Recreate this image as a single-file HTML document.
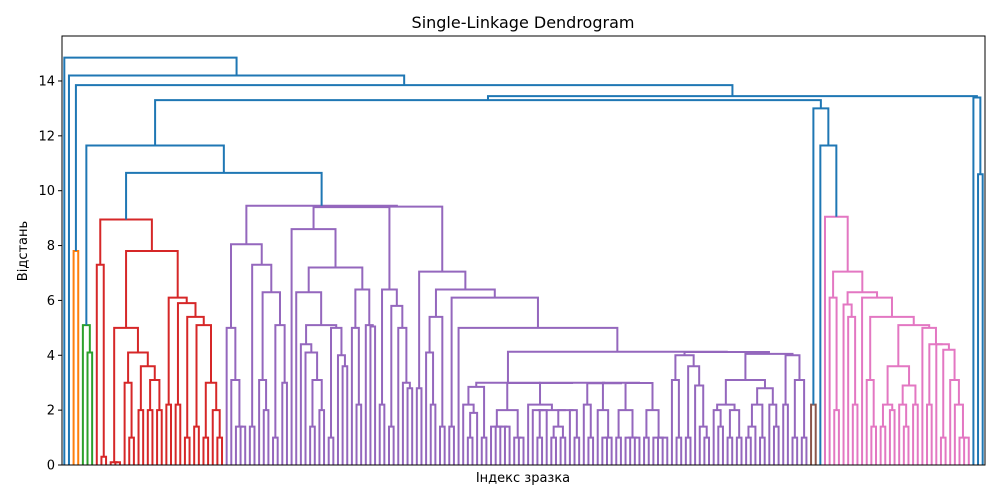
<!DOCTYPE html>
<html><head><meta charset="utf-8">
<style>
html,body{margin:0;padding:0;background:#fff;}
svg{display:block;font-family:"DejaVu Sans","Liberation Sans",sans-serif;}
</style></head>
<body>
<svg id="chart" width="1000" height="500" viewBox="0 0 1000 500" xmlns="http://www.w3.org/2000/svg">
<rect x="0" y="0" width="1000" height="500" fill="#fff"/>
<text x="523" y="28" text-anchor="middle" font-size="16" fill="#000">Single-Linkage Dendrogram</text>
<text x="523" y="482" text-anchor="middle" font-size="13" fill="#000">Індекс зразка</text>
<text x="27" y="251" text-anchor="middle" font-size="13" fill="#000" transform="rotate(-90 27 251)">Відстань</text>
<g id="links"></g>
<g id="yaxis"></g>
<rect x="62" y="36" width="923" height="429" fill="none" stroke="#000" stroke-width="1"/>
</svg>
<script>
// tick values
const yTicks = [0, 2, 4, 6, 8, 10, 12, 14];
// colour threshold and palette order (matplotlib C1..C6)
const colorThreshold = 10.4;
const clusterColors = ["#ff7f0e", "#2ca02c", "#d62728", "#9467bd", "#8c564b", "#e377c2"];
const aboveColor = "#1f77b4";

// subtree data: [mergeHeight, left, right], leaf = 0
const redCluster = [8.95, [7.3,0,[0.3,0,0]], [7.8, [5.0,[0.1,0,[0.1,0,0]],[4.1,[3.0,0,[1.0,0,0]],[3.6,[2.0,0,0],[3.1,[2.0,0,0],[2.0,0,0]]]]], [6.1,[2.2,0,0],[5.9,[2.2,0,0],[5.4,[1.0,0,0],[5.1,[1.4,0,0],[3.0,[1.0,0,0],[2.0,0,[1.0,0,0]]]]]]]]];
const purpleA = [8.05, [5.0,0,[3.1,0,[1.4,0,[1.4,0,0]]]], [7.3,[1.4,0,0],[6.3,[3.1,0,[2.0,0,0]],[5.1,[1.0,0,0],[3.0,0,0]]]]];
const purpleB = [8.6, 0, [7.2, [6.3,0,[5.1,[4.4,0,[4.1,0,[3.1,[1.4,0,0],[2.0,0,0]]]],[5.0,[1.0,0,0],[4.0,0,[3.6,0,0]]]]], [6.4,[5.0,0,[2.2,0,0]],[5.1,0,[5.05,0,0]]]]];
const purpleC = [6.4, [2.2,0,0], [5.8,[1.4,0,0],[5.0,0,[3.0,0,[2.8,0,0]]]]];
const flatGroups = [3.0,
  [2.85,[2.2,0,[1.9,[1.0,0,0],0]],[1.0,0,0]],
  [2.99,[2.0,[1.4,0,[1.4,[1.4,0,0],[1.4,0,0]]],[1.0,0,[1.0,0,0]]],
  [3.0,[2.2,0,[2.0,[2.0,0,[2.0,[1.0,0,0],0]],[2.0,[1.4,[1.0,0,0],[1.0,0,0]],[2.0,0,[1.0,0,0]]]]],
  [2.98,[2.2,0,[1.0,0,0]],
  [3.0,[2.0,0,[1.0,[1.0,0,0],0]],
  [2.99,[2.0,[1.0,0,0],[1.0,[1.0,0,0],[1.0,0,0]]],[2.0,[1.0,0,0],[1.0,0,[1.0,[1.0,0,0],0]]]]]]]]];
const purpleD1 = [4.0,[3.1,0,[1.0,0,0]],[3.6,[1.0,0,0],[2.9,0,[1.4,0,[1.0,0,0]]]]];
const purpleD2 = [3.1,[2.2,[2.0,0,[1.4,0,0]],[2.0,[1.0,0,0],[1.0,0,0]]],[2.8,[2.2,[1.4,[1.0,0,0],0],[1.0,0,0]],[2.2,0,[1.4,0,0]]]];
const purpleD3 = [4.0,[2.2,0,0],[3.1,[1.0,0,0],[1.0,0,0]]];
const purpleE = [7.05, [2.8,0,0], [6.4, [5.4,[4.1,0,[2.2,0,0]],[1.4,0,0]], [6.1,[1.4,0,0],[5.0,0,[4.13,flatGroups,[4.12,purpleD1,[4.05,purpleD2,purpleD3]]]]]]];
const purpleCluster = [9.45, purpleA, [9.42, [9.4, purpleB, purpleC], purpleE]];
const pinkCluster = [9.05, 0, [7.05, [6.1,0,[2.0,0,0]], [6.3, [5.85,0,[5.4,0,[2.2,0,0]]], [6.1,0,[5.4,[3.1,0,[1.4,0,0]],[5.1,[3.6,[2.2,[1.4,0,0],[2.0,0,0]],[2.9,[2.2,0,[1.4,0,0]],[2.2,0,0]]],[5.0,0,[4.4,[2.2,0,0],[4.4,0,[4.2,[1.0,0,0],[3.1,0,[2.2,0,[1.0,0,[1.0,0,0]]]]]]]]]]]]]];
const tree = [14.85, 0, [14.2, 0, [13.85, [7.8,0,0], [13.45, [13.3, [11.65, [5.1,0,[4.1,0,0]], [10.65, redCluster, purpleCluster]], [13.0, [2.2,0,0], [11.65, 0, pinkCluster]]], [13.4, 0, [10.6,0,0]]]]]];

const X0 = 62, X1 = 985, Y0 = 465, PXU = 27.43;
function yScale(v){ return Y0 - v * PXU; }
function countLeaves(n){ return n === 0 ? 1 : countLeaves(n[1]) + countLeaves(n[2]); }
const nLeaves = countLeaves(tree);
function xScale(i){ return X0 + (i + 0.5) * (X1 - X0) / nLeaves; }

const NS = "http://www.w3.org/2000/svg";
const linksG = document.getElementById("links");
let leafIdx = 0, colorIdx = 0, linkIdx = 0;

function layout(node, color){
  if (node === 0){ const x = xScale(leafIdx); leafIdx++; return {x: x, h: 0}; }
  let c = color;
  if (!c && node[0] < colorThreshold){ c = clusterColors[colorIdx % clusterColors.length]; colorIdx++; }
  const L = layout(node[1], c);
  const R = layout(node[2], c);
  const yh = yScale(node[0]);
  const p = document.createElementNS(NS, "path");
  p.setAttribute("d", "M" + L.x + "," + yScale(L.h) + "V" + yh + "H" + R.x + "V" + yScale(R.h));
  p.setAttribute("fill", "none");
  p.setAttribute("stroke", c || aboveColor);
  p.setAttribute("stroke-width", "2");
  
  
  linksG.appendChild(p);
  return {x: (L.x + R.x) / 2, h: node[0]};
}
layout(tree, null);

const yG = document.getElementById("yaxis");
yTicks.forEach(function(t){
  const y = yScale(t);
  const ln = document.createElementNS(NS, "line");
  ln.setAttribute("x1", X0 - 4); ln.setAttribute("x2", X0);
  ln.setAttribute("y1", y); ln.setAttribute("y2", y);
  ln.setAttribute("stroke", "#000");
  
  
  yG.appendChild(ln);
  const tx = document.createElementNS(NS, "text");
  tx.setAttribute("x", X0 - 7); tx.setAttribute("y", y + 4.5);
  tx.setAttribute("text-anchor", "end");
  tx.setAttribute("font-size", "13");
  tx.textContent = t;
  
  
  yG.appendChild(tx);
});
</script>
</body></html>
